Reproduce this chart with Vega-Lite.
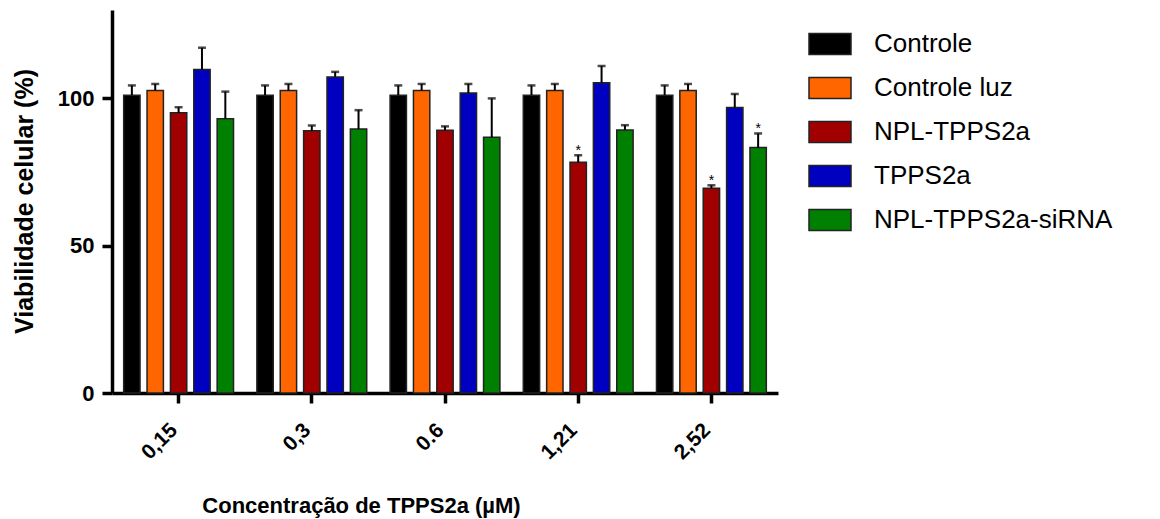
{
  "$schema": "https://vega.github.io/schema/vega-lite/v6.json",
  "width": 666,
  "height": 383,
  "autosize": {"type": "none"},
  "padding": {"left": 112, "top": 10, "right": 382, "bottom": 126},
  "background": "white",
  "config": {
    "view": {"stroke": null},
    "font": "Liberation Sans",
    "axis": {"grid": false, "domainColor": "black", "domainWidth": 3.5, "tickColor": "black", "tickWidth": 3.5, "tickSize": 10, "labelColor": "black", "titleColor": "black", "labelFont": "Liberation Sans", "titleFont": "Liberation Sans", "labelFontWeight": "bold", "titleFontWeight": "bold", "labelFontSize": 21, "titleFontSize": 22}
  },
  "data": {"values": [
    {"conc": "0,15", "group": "Controle", "value": 101.1, "upper": 104.4, "sig": ""},
    {"conc": "0,15", "group": "Controle luz", "value": 102.7, "upper": 104.9, "sig": ""},
    {"conc": "0,15", "group": "NPL-TPPS2a", "value": 95.1, "upper": 97.0, "sig": ""},
    {"conc": "0,15", "group": "TPPS2a", "value": 109.8, "upper": 117.2, "sig": ""},
    {"conc": "0,15", "group": "NPL-TPPS2a-siRNA", "value": 93.1, "upper": 102.3, "sig": ""},
    {"conc": "0,3", "group": "Controle", "value": 101.1, "upper": 104.4, "sig": ""},
    {"conc": "0,3", "group": "Controle luz", "value": 102.7, "upper": 104.9, "sig": ""},
    {"conc": "0,3", "group": "NPL-TPPS2a", "value": 89.0, "upper": 90.8, "sig": ""},
    {"conc": "0,3", "group": "TPPS2a", "value": 107.3, "upper": 109.0, "sig": ""},
    {"conc": "0,3", "group": "NPL-TPPS2a-siRNA", "value": 89.6, "upper": 96.0, "sig": ""},
    {"conc": "0.6", "group": "Controle", "value": 101.1, "upper": 104.4, "sig": ""},
    {"conc": "0.6", "group": "Controle luz", "value": 102.7, "upper": 104.9, "sig": ""},
    {"conc": "0.6", "group": "NPL-TPPS2a", "value": 89.2, "upper": 90.5, "sig": ""},
    {"conc": "0.6", "group": "TPPS2a", "value": 101.8, "upper": 104.9, "sig": ""},
    {"conc": "0.6", "group": "NPL-TPPS2a-siRNA", "value": 86.8, "upper": 100.0, "sig": ""},
    {"conc": "1,21", "group": "Controle", "value": 101.1, "upper": 104.4, "sig": ""},
    {"conc": "1,21", "group": "Controle luz", "value": 102.7, "upper": 104.9, "sig": ""},
    {"conc": "1,21", "group": "NPL-TPPS2a", "value": 78.3, "upper": 80.7, "sig": "*"},
    {"conc": "1,21", "group": "TPPS2a", "value": 105.3, "upper": 111.0, "sig": ""},
    {"conc": "1,21", "group": "NPL-TPPS2a-siRNA", "value": 89.3, "upper": 90.9, "sig": ""},
    {"conc": "2,52", "group": "Controle", "value": 101.1, "upper": 104.4, "sig": ""},
    {"conc": "2,52", "group": "Controle luz", "value": 102.7, "upper": 104.9, "sig": ""},
    {"conc": "2,52", "group": "NPL-TPPS2a", "value": 69.5, "upper": 70.5, "sig": "*"},
    {"conc": "2,52", "group": "TPPS2a", "value": 96.9, "upper": 101.5, "sig": ""},
    {"conc": "2,52", "group": "NPL-TPPS2a-siRNA", "value": 83.3, "upper": 88.1, "sig": "*"}
  ]},
  "encoding": {
    "x": {"field": "conc", "type": "nominal", "sort": ["0,15", "0,3", "0.6", "1,21", "2,52"],
      "scale": {"paddingInner": 0, "paddingOuter": 0},
      "axis": {"labelAngle": -45, "labelPadding": 16, "labelOffset": -12, "title": "Concentração de TPPS2a (µM)", "titleX": 249, "titleY": 112, "titleAnchor": null, "titleAlign": "center", "titleBaseline": "middle"}},
    "xOffset": {"field": "group", "type": "nominal", "sort": ["Controle", "Controle luz", "NPL-TPPS2a", "TPPS2a", "NPL-TPPS2a-siRNA"],
      "scale": {"domain": ["Controle", "Controle luz", "NPL-TPPS2a", "TPPS2a", "NPL-TPPS2a-siRNA"], "paddingInner": 0.3, "paddingOuter": 0.5}}
  },
  "layer": [
    {
      "mark": {"type": "bar", "stroke": "#222222", "strokeWidth": 1.5},
      "encoding": {
        "y": {"field": "value", "type": "quantitative", "scale": {"domain": [0, 130], "nice": false},
          "axis": {"values": [0, 50, 100], "title": "Viabilidade celular (%)", "labelPadding": 8, "labelFontSize": 22, "titleX": -88, "titleY": 191, "titleAngle": -90, "titleAlign": "center", "titleBaseline": "middle", "titleFontSize": 25}},
        "color": {"field": "group", "type": "nominal",
          "scale": {"domain": ["Controle", "Controle luz", "NPL-TPPS2a", "TPPS2a", "NPL-TPPS2a-siRNA"], "range": ["#000000", "#FF6600", "#A00000", "#0000C0", "#008000"]},
          "legend": {"title": null, "orient": "none", "legendX": 696, "legendY": 12, "symbolType": "M-1,-0.5H1V0.5H-1Z", "symbolSize": 1764, "symbolStrokeColor": "#222222", "symbolStrokeWidth": 1.5, "symbolOpacity": 1, "labelFont": "Liberation Sans", "labelFontSize": 26, "labelColor": "black", "labelOffset": 22, "rowPadding": 8, "labelLimit": 400}}
      }
    },
    {
      "mark": {"type": "rule", "color": "black", "strokeWidth": 2},
      "encoding": {"y": {"field": "value", "type": "quantitative"}, "y2": {"field": "upper"}}
    },
    {
      "mark": {"type": "tick", "color": "black", "size": 8, "thickness": 2.5, "orient": "horizontal"},
      "encoding": {"y": {"field": "upper", "type": "quantitative"}}
    },
    {
      "mark": {"type": "text", "color": "black", "fontSize": 14, "baseline": "alphabetic", "dy": 0, "font": "Liberation Sans"},
      "encoding": {"y": {"field": "upper", "type": "quantitative"}, "text": {"field": "sig"}}
    }
  ]
}
